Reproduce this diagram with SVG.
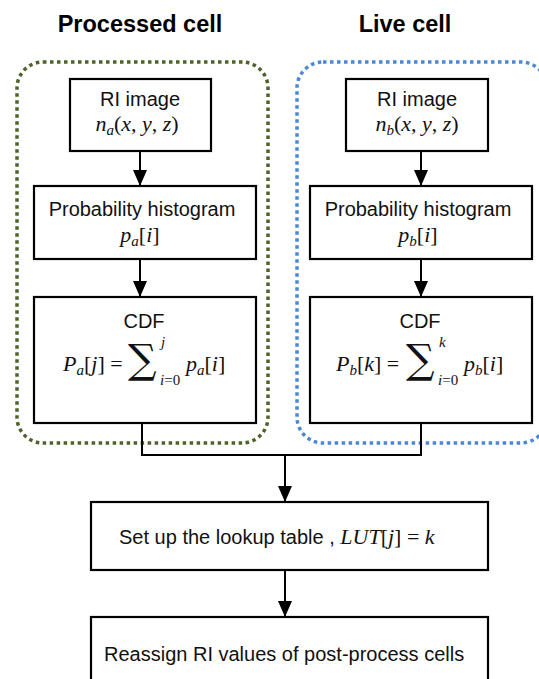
<svg xmlns="http://www.w3.org/2000/svg" width="539" height="679" viewBox="0 0 539 679">
<style>
.box{fill:#fff;stroke:#000;stroke-width:2.2}
.t{font-family:"Liberation Sans",Arial,sans-serif;font-size:20px;fill:#111}
.h{font-family:"Liberation Sans",Arial,sans-serif;font-size:23.5px;font-weight:bold;fill:#000}
.m{font-family:"Liberation Serif","Times New Roman",serif;font-size:22px;font-style:italic;fill:#111}
.r{font-style:normal}
.s{font-size:15px}
.sig{font-family:"DejaVu Serif","Liberation Serif",serif;font-size:40px;fill:#111}
.c{stroke:#000;stroke-width:2;fill:none}
</style>
<defs>
<marker id="ah" markerWidth="16" markerHeight="14" refX="16" refY="7" orient="auto" markerUnits="userSpaceOnUse">
<path d="M0,0 L16,7 L0,14 Z" fill="#000"/>
</marker>
</defs>

<text class="h" x="140" y="32" text-anchor="middle">Processed cell</text>
<text class="h" x="405" y="32" text-anchor="middle">Live cell</text>

<g id="group-processed">
<rect x="17" y="62" width="251" height="381" rx="26" fill="none" stroke="#4f6228" stroke-width="3.5" stroke-dasharray="3.5 3.5"/>
</g>
<g id="group-live">
<rect x="297" y="62" width="250" height="381" rx="26" fill="none" stroke="#4a88d6" stroke-width="3.5" stroke-dasharray="3.5 3.5"/>
</g>

<g id="connectors">
<line class="c" x1="140" y1="151" x2="140" y2="186" marker-end="url(#ah)"/>
<line class="c" x1="140" y1="259" x2="140" y2="297" marker-end="url(#ah)"/>
<line class="c" x1="421" y1="151" x2="421" y2="186" marker-end="url(#ah)"/>
<line class="c" x1="421" y1="259" x2="421" y2="297" marker-end="url(#ah)"/>
<polyline class="c" points="142,423 142,455 421,455 421,423"/>
<line class="c" x1="285" y1="455" x2="285" y2="502" marker-end="url(#ah)"/>
<line class="c" x1="285" y1="570" x2="285" y2="617" marker-end="url(#ah)"/>
</g>

<g id="ri-a">
<rect class="box" x="70" y="79" width="141" height="72"/>
<text class="t" x="140" y="106" text-anchor="middle">RI image</text>
<text class="m" x="137" y="131" text-anchor="middle">n<tspan class="s" dy="4">a</tspan><tspan class="r" dy="-4">(</tspan>x<tspan class="r">, </tspan>y<tspan class="r">, </tspan>z<tspan class="r">)</tspan></text>
</g>

<g id="ri-b">
<rect class="box" x="346" y="79" width="142" height="72"/>
<text class="t" x="417" y="106" text-anchor="middle">RI image</text>
<text class="m" x="417" y="131" text-anchor="middle">n<tspan class="s" dy="4">b</tspan><tspan class="r" dy="-4">(</tspan>x<tspan class="r">, </tspan>y<tspan class="r">, </tspan>z<tspan class="r">)</tspan></text>
</g>

<g id="hist-a">
<rect class="box" x="34" y="186" width="222" height="73"/>
<text class="t" x="142" y="216" text-anchor="middle">Probability histogram</text>
<text class="m" x="140" y="242" text-anchor="middle">p<tspan class="s" dy="4">a</tspan><tspan class="r" dy="-4">[</tspan>i<tspan class="r">]</tspan></text>
</g>

<g id="hist-b">
<rect class="box" x="310" y="186" width="222" height="73"/>
<text class="t" x="418" y="216" text-anchor="middle">Probability histogram</text>
<text class="m" x="418" y="242" text-anchor="middle">p<tspan class="s" dy="4">b</tspan><tspan class="r" dy="-4">[</tspan>i<tspan class="r">]</tspan></text>
</g>

<g id="cdf-a">
<rect class="box" x="34" y="297" width="222" height="126"/>
<text class="t" x="144" y="328" text-anchor="middle">CDF</text>
<text class="m" x="63" y="371">P<tspan class="s" dy="4">a</tspan><tspan class="r" dy="-4">[</tspan>j<tspan class="r">] =</tspan></text>
<text class="sig" x="128" y="373">∑</text>
<text class="m s" x="160" y="385">i<tspan class="r">=0</tspan></text>
<text class="m s" x="161" y="347">j</text>
<text class="m" x="186" y="371">p<tspan class="s" dy="4">a</tspan><tspan class="r" dy="-4">[</tspan>i<tspan class="r">]</tspan></text>
</g>

<g id="cdf-b">
<rect class="box" x="310" y="297" width="222" height="126"/>
<text class="t" x="420" y="328" text-anchor="middle">CDF</text>
<text class="m" x="336" y="371">P<tspan class="s" dy="4">b</tspan><tspan class="r" dy="-4">[</tspan>k<tspan class="r">] =</tspan></text>
<text class="sig" x="406" y="373">∑</text>
<text class="m s" x="438" y="385">i<tspan class="r">=0</tspan></text>
<text class="m s" x="439" y="347">k</text>
<text class="m" x="464" y="371">p<tspan class="s" dy="4">b</tspan><tspan class="r" dy="-4">[</tspan>i<tspan class="r">]</tspan></text>
</g>

<g id="lut">
<rect class="box" x="91" y="502" width="397" height="68"/>
<text class="t" x="119" y="544">Set up the lookup table , <tspan class="m">LUT</tspan><tspan class="m r">[</tspan><tspan class="m">j</tspan><tspan class="m r">] = </tspan><tspan class="m">k</tspan></text>
</g>

<g id="reassign">
<rect class="box" x="91" y="617" width="397" height="80"/>
<text class="t" x="104" y="661">Reassign RI values of post-process cells</text>
</g>
</svg>
